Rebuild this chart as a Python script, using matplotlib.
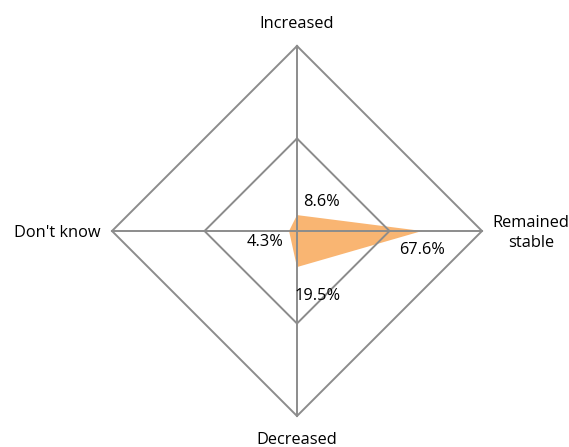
"""Radar chart: perceived change, four answer categories."""

import numpy as np
import matplotlib

matplotlib.use("Agg")
import matplotlib.pyplot as plt

plt.rcParams["font.family"] = ["Open Sans", "DejaVu Sans"]

categories = ["Increased", "Remained\nstable", "Decreased", "Don't know"]
values = [8.6, 67.6, 19.5, 4.3]
grid_levels = [50, 100]
max_value = 100

FILL = "#F9B572"
GRID = "#8C8C8C"
FS = 11.8

# axis directions: top, right, bottom, left
angles = np.array([90, 0, 270, 180]) * np.pi / 180
dx, dy = np.cos(angles), np.sin(angles)

fig = plt.figure(figsize=(5.69, 4.47), dpi=100)
ax = fig.add_axes([0, 0, 1, 1])
ax.set_xlim(-297 / 185, 272 / 185)
ax.set_ylim(-216 / 185, 231 / 185)
ax.axis("off")

for level in grid_levels:
    r = level / max_value
    ax.plot(np.append(dx, dx[0]) * r, np.append(dy, dy[0]) * r,
            color=GRID, lw=1.4, solid_joinstyle="miter")
for x, y in zip(dx, dy):
    ax.plot([0, x], [0, y], color=GRID, lw=1.4)

r = np.array(values) / max_value
ax.fill(dx * r, dy * r, color=FILL, lw=0, zorder=1)

# category labels
ax.text(0, 1.12, categories[0], ha="center", va="center", fontsize=FS)
ax.text(1.265, -0.01, categories[1], ha="center", va="center", fontsize=FS,
        linespacing=1.3)
ax.text(0, -1.13, categories[2], ha="center", va="center", fontsize=FS)
ax.text(-1.06, -0.01, categories[3], ha="right", va="center", fontsize=FS)

# value labels
offsets = [(0.135, 0.155), (0.675, -0.105), (0.11, -0.35), (-0.17, -0.06)]
for (ox, oy), v in zip(offsets, values):
    ax.text(ox, oy, f"{v}%", ha="center", va="center", fontsize=FS)

fig.savefig("out.png", dpi=100)
